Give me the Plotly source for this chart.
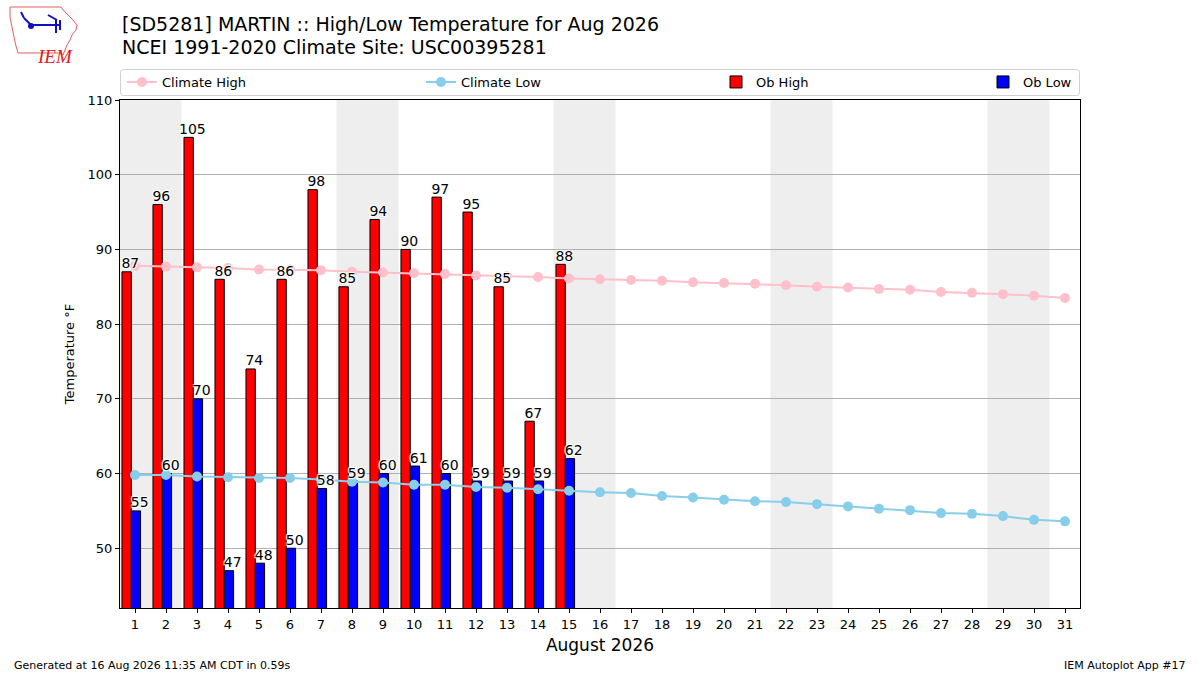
import plotly.graph_objects as go
import pandas as pd

# ---------------- data ----------------
days = list(range(1, 32))
ob_days = list(range(1, 16))
ob_high = [87, 96, 105, 86, 74, 86, 98, 85, 94, 90, 97, 95, 85, 67, 88]
ob_low = [55, 60, 70, 47, 48, 50, 58, 59, 60, 61, 60, 59, 59, 59, 62]
clim_high = [87.8, 87.7, 87.6, 87.5, 87.3, 87.3, 87.2, 87.0, 86.9, 86.8,
             86.7, 86.5, 86.4, 86.3, 86.1, 86.0, 85.9, 85.8, 85.6, 85.5,
             85.4, 85.2, 85.0, 84.9, 84.7, 84.6, 84.3, 84.2, 84.0, 83.8, 83.5]
clim_low = [59.8, 59.8, 59.6, 59.5, 59.4, 59.4, 59.2, 58.9, 58.8, 58.5,
            58.5, 58.2, 58.1, 57.9, 57.7, 57.5, 57.4, 57.0, 56.8, 56.5,
            56.3, 56.2, 55.9, 55.6, 55.3, 55.1, 54.7, 54.6, 54.3, 53.8, 53.6]
year, month = 2026, 8
x_ticks = days
y_ticks = [50, 60, 70, 80, 90, 100, 110]

title_line1 = "[SD5281] MARTIN :: High/Low Temperature for Aug 2026"
title_line2 = "NCEI 1991-2020 Climate Site: USC00395281"
footer_left = "Generated at 16 Aug 2026 11:35 AM CDT in 0.59s"
footer_right = "IEM Autoplot App #17"

FONT = "DejaVu Sans"

# plot area geometry (pixels)
L, R, T, B = 120, 120, 100, 67
W, H = 1200, 675
PW, PH = W - L - R, H - T - B


def P(px, py):
    return (px - L) / PW, (H - B - py) / PH


fig = go.Figure()

# climate lines
fig.add_trace(go.Scatter(x=days, y=clim_high, mode="lines+markers", name="Climate High",
                         line=dict(color="#FFC0CB", width=2),
                         marker=dict(color="#FFC0CB", size=10), legend="legend"))
fig.add_trace(go.Scatter(x=days, y=clim_low, mode="lines+markers", name="Climate Low",
                         line=dict(color="#87CEEB", width=2),
                         marker=dict(color="#87CEEB", size=10), legend="legend2"))

# observed bars
fig.add_trace(go.Bar(x=ob_days, y=ob_high, name="Ob High", width=0.3, offset=-0.42,
                     marker=dict(color="#FF0000", line=dict(color="black", width=1)),
                     legend="legend3"))
fig.add_trace(go.Bar(x=ob_days, y=ob_low, name="Ob Low", width=0.3, offset=-0.12,
                     marker=dict(color="#0000FF", line=dict(color="black", width=1)),
                     legend="legend4"))

# bar value labels
shadow = "1px 1px 1px white, -1px -1px 1px white, 1px -1px 1px white, -1px 1px 1px white"
fig.add_trace(go.Scatter(x=[d - 0.15 for d in ob_days], y=ob_high, mode="text",
                         text=[str(v) for v in ob_high], textposition="top center",
                         textfont=dict(family=FONT, size=14, color="black", shadow=shadow),
                         showlegend=False, hoverinfo="skip", cliponaxis=False))
fig.add_trace(go.Scatter(x=[d + 0.15 for d in ob_days], y=ob_low, mode="text",
                         text=[str(v) for v in ob_low], textposition="top center",
                         textfont=dict(family=FONT, size=14, color="black", shadow=shadow),
                         showlegend=False, hoverinfo="skip", cliponaxis=False))

# weekend shading (merge consecutive weekend days into one band)
shapes = []
weekend = [d for d in days if pd.Timestamp(year=year, month=month, day=d).weekday() >= 5]
groups = []
for d in weekend:
    if groups and d == groups[-1][-1] + 1:
        groups[-1].append(d)
    else:
        groups.append([d])
for g in groups:
    shapes.append(dict(type="rect", xref="x", yref="paper", x0=g[0] - 0.5, x1=g[-1] + 0.5,
                       y0=0, y1=1, fillcolor="#EEEEEE", line=dict(width=0), layer="below"))


# legend frame (rounded)
def rounded_rect(x0, y0, x1, y1, r):
    a0, b0 = P(x0, y0)
    a1, b1 = P(x1, y1)
    rx, ry = r / PW, r / PH
    return (f"M {a0 + rx},{b0} L {a1 - rx},{b0} Q {a1},{b0} {a1},{b0 - ry} "
            f"L {a1},{b1 + ry} Q {a1},{b1} {a1 - rx},{b1} L {a0 + rx},{b1} "
            f"Q {a0},{b1} {a0},{b1 + ry} L {a0},{b0 - ry} Q {a0},{b0} {a0 + rx},{b0} Z")


shapes.append(dict(type="path", xref="paper", yref="paper",
                   path=rounded_rect(120.5, 69.5, 1079.5, 95.5, 3),
                   line=dict(color="#D0D0D0", width=1), fillcolor="rgba(255,255,255,0.8)"))

# IEM logo (approximate)
iowa = [(10, 7), (61, 7), (64, 11), (68, 15), (72, 19), (77, 25), (76, 30), (72, 35),
        (70, 40), (67, 45), (65, 50), (63, 55), (60, 53), (18, 53), (16, 46), (14, 37),
        (12, 27), (10, 17)]
path = "M " + " L ".join(f"{P(x, y)[0]:.5f},{P(x, y)[1]:.5f}" for x, y in iowa) + " Z"
shapes.append(dict(type="path", xref="paper", yref="paper", path=path,
                   line=dict(color="#E06060", width=1), fillcolor="rgba(0,0,0,0)"))
for (xa, ya, xb, yb) in [(31, 25, 60, 25), (21, 12, 24, 18), (24, 18, 31, 25),
                         (56, 20, 56, 33), (48, 15, 57, 20), (60, 20, 60, 30)]:
    a, b = P(xa, ya), P(xb, yb)
    shapes.append(dict(type="line", xref="paper", yref="paper", x0=a[0], y0=a[1],
                       x1=b[0], y1=b[1], line=dict(color="#1010C0", width=2)))
c0, c1 = P(28, 23), P(34, 29)
shapes.append(dict(type="circle", xref="paper", yref="paper", x0=c0[0], y0=c0[1],
                   x1=c1[0], y1=c1[1], fillcolor="#1010C0", line=dict(width=0)))

annotations = []
lx, ly = P(35, 44)
annotations.append(dict(text="<i>IEM</i>", x=lx, y=ly, xref="paper", yref="paper",
                        showarrow=False, font=dict(family="Liberation Serif", size=19,
                                                   color="#E02020")))
for txt, py in [(title_line1, 24), (title_line2, 47)]:
    tx, ty = P(120, py)
    annotations.append(dict(text=txt, x=tx, y=ty, xref="paper", yref="paper",
                            xanchor="left", yanchor="middle", showarrow=False,
                            font=dict(family=FONT, size=19, color="black")))
fx, fy = P(12, 665)
annotations.append(dict(text=footer_left, x=fx, y=fy, xref="paper", yref="paper",
                        xanchor="left", yanchor="middle", showarrow=False,
                        font=dict(family=FONT, size=11, color="black")))
rx_, ry_ = P(1188, 665)
annotations.append(dict(text=footer_right, x=rx_, y=ry_, xref="paper", yref="paper",
                        xanchor="right", yanchor="middle", showarrow=False,
                        font=dict(family=FONT, size=11, color="black")))


def leg(px):
    x, y = P(px, 82)
    return dict(orientation="h", x=x, xanchor="left", y=y, yanchor="middle",
                bgcolor="rgba(0,0,0,0)", borderwidth=0,
                font=dict(family=FONT, size=13, color="black"))


fig.update_layout(
    width=W, height=H,
    margin=dict(l=L, r=R, t=T, b=B),
    paper_bgcolor="white", plot_bgcolor="white",
    barmode="overlay",
    font=dict(family=FONT, size=13, color="black"),
    xaxis=dict(range=[0.516, 31.484], tickmode="array", tickvals=x_ticks,
               ticktext=[str(d) for d in x_ticks], ticks="outside", ticklen=4,
               tickcolor="black", showline=True, linecolor="black", mirror=True,
               showgrid=False, zeroline=False,
               title=dict(text="August 2026", font=dict(family=FONT, size=17), standoff=8),
               tickfont=dict(size=13)),
    yaxis=dict(range=[42, 110], tickmode="array", tickvals=y_ticks, ticks="outside",
               ticklen=4, tickcolor="black", showline=True, linecolor="black", mirror=True,
               showgrid=True, gridcolor="#B0B0B0", gridwidth=1, zeroline=False,
               title=dict(text="Temperature °F", font=dict(family=FONT, size=13), standoff=10),
               tickfont=dict(size=13)),
    legend=leg(122),
    legend2=leg(421),
    legend3=leg(716),
    legend4=leg(983),
    shapes=shapes,
    annotations=annotations,
)

fig.write_html("out.html", config={"displayModeBar": False},
               post_script="document.body.style.margin='0';document.body.style.padding='0';"
                           "document.body.style.overflow='hidden';")
